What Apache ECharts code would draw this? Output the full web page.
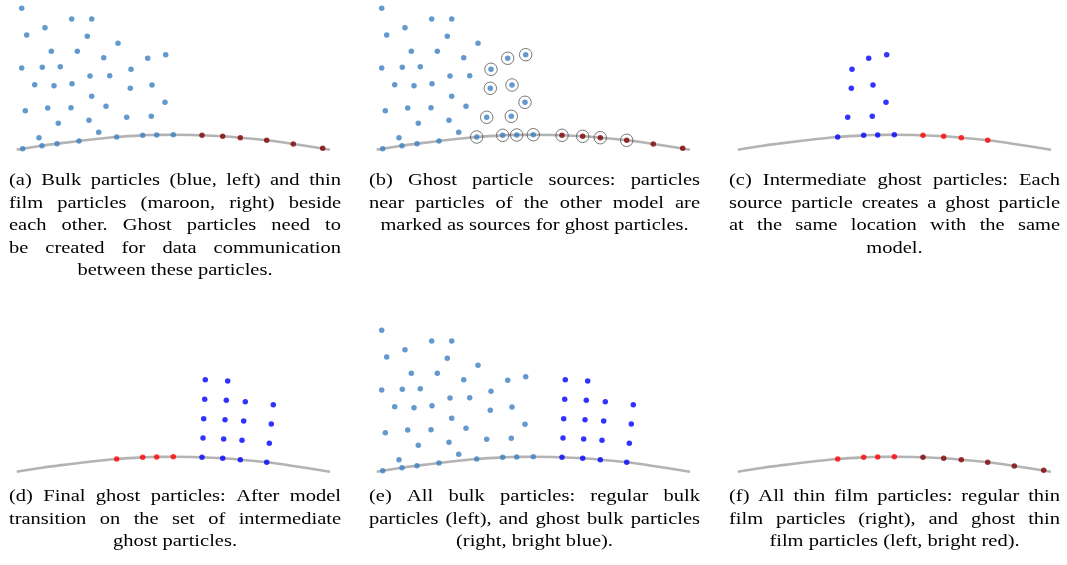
<!DOCTYPE html>
<html><head><meta charset="utf-8">
<script src="https://cdn.jsdelivr.net/npm/echarts@6/dist/echarts.min.js"></script>
<style>html,body{margin:0;padding:0;background:#fff}#c{width:1067px;height:565px}</style>
</head><body><div id="c"></div>
<script>
// Values, in panel-local units (x right, y down), per panel frame 340 x 160
const curvePts = [[16.7,149.7],[42,145.7],[57,143.7],[79,141],[116.7,137],[142.7,135.3],[156.7,135],[173.3,134.7],[202,135.3],[222.7,136.3],[240.3,137.7],[266.7,140.3],[293.3,144],[330,149.7]];
const bulkInterior = [[21.7,8.3],[71.7,19],[91.7,19],[45,27.7],[26.7,35],[87.3,36.3],[118,43.3],[51.3,51.3],[77.3,51.3],[103.7,57.7],[147.7,58.3],[165.7,54.7],[21.7,68],[42.3,67.3],[60.3,66.7],[131,69.3],[90,76],[109.7,75.7],[34.7,84.7],[54,85.7],[72,83.7],[130.3,88.3],[152,85],[91.7,96.3],[25.3,110.7],[47.7,108],[71,107.7],[106,106.3],[165,102.3],[58.3,123.3],[89,120.3],[126.7,117.3],[151.3,116.3],[98.7,132.3],[39,137.7]];
const bulkSurface = [[22.7,148.7],[42,145.7],[57,143.7],[79,141],[116.7,137],[142.7,135.3],[156.7,135],[173.3,134.7]];
const filmPts = [[202,135.3],[222.7,136.3],[240.3,137.7],[266.7,140.3],[293.3,144],[322.7,148.3]];
const bulkSources = [[147.7,58.3],[165.7,54.7],[131,69.3],[130.3,88.3],[152,85],[165,102.3],[126.7,117.3],[151.3,116.3],[116.7,137],[142.7,135.3],[156.7,135],[173.3,134.7]];
const filmSources = [[202,135.3],[222.7,136.3],[240.3,137.7],[266.7,140.3]];
const ghostFilm = [[116.7,137],[142.7,135.3],[156.7,135],[173.3,134.7]];
const ghostBulk = [[205.3,57.7],[204.7,77.3],[203.7,96.7],[203,116],[202,135.3],
  [227.7,59],[226.3,78.3],[225,97.7],[223.7,117],[222.7,136.3],
  [245.3,79.7],[243.7,99],[242,118.3],[240.3,137.7],
  [273.3,82.7],[271.3,102],[269.3,121.3],[266.7,140.3]];

const captionA = ["(a) Bulk particles (blue, left) and thin","film particles (maroon, right) beside","each other. Ghost particles need to","be created for data communication","between these particles."];
const captionB = ["(b) Ghost particle sources: particles","near particles of the other model are","marked as sources for ghost particles."];
const captionC = ["(c) Intermediate ghost particles: Each","source particle creates a ghost particle","at the same location with the same","model."];
const captionD = ["(d) Final ghost particles: After model","transition on the set of intermediate","ghost particles."];
const captionE = ["(e) All bulk particles: regular bulk","particles (left), and ghost bulk particles","(right, bright blue)."];
const captionF = ["(f) All thin film particles: regular thin","film particles (right), and ghost thin","film particles (left, bright red)."];

const C_BULK = '#3d80c3', C_FILM = '#7f0000', C_GB = '#0000ff', C_GF = '#ff0000', C_CURVE = '#b3b3b3';
const panels = [
  {left:0, top:0}, {left:360, top:0}, {left:721, top:0},
  {left:0, top:322}, {left:360, top:322}, {left:721, top:322}
];
const grid = panels.map(p => ({left:p.left, top:p.top, width:340, height:160}));
const xAxis = panels.map((p,i) => ({type:'value', gridIndex:i, min:0, max:340, show:false}));
const yAxis = panels.map((p,i) => ({type:'value', gridIndex:i, min:0, max:160, inverse:true, show:false}));

const series = [];
function curve(i){ series.push({type:'line', xAxisIndex:i, yAxisIndex:i, data:curvePts, smooth:0.4, symbol:'none', lineStyle:{color:C_CURVE, width:2.6}, silent:true, z:1}); }
function dots(i, data, color){ series.push({type:'scatter', xAxisIndex:i, yAxisIndex:i, data, symbolSize:5.5, itemStyle:{color}, silent:true, z:3}); }
function rings(i, data){ series.push({type:'scatter', xAxisIndex:i, yAxisIndex:i, data, symbolSize:12.5, itemStyle:{color:'rgba(0,0,0,0)', borderColor:'#444', borderWidth:0.9}, silent:true, z:2}); }
// (a)
curve(0); dots(0, bulkInterior, C_BULK); dots(0, bulkSurface, C_BULK); dots(0, filmPts, C_FILM);
// (b)
curve(1); rings(1, bulkSources.concat(filmSources)); dots(1, bulkInterior, C_BULK); dots(1, bulkSurface, C_BULK); dots(1, filmPts, C_FILM);
// (c)
curve(2); dots(2, bulkSources, C_GB); dots(2, filmSources, C_GF);
// (d)
curve(3); dots(3, ghostFilm, C_GF); dots(3, ghostBulk, C_GB);
// (e)
curve(4); dots(4, bulkInterior, C_BULK); dots(4, bulkSurface, C_BULK); dots(4, ghostBulk, C_GB);
// (f)
curve(5); dots(5, ghostFilm, C_GF); dots(5, filmPts, C_FILM);

// Captions: justified lines, last line centred
const FS = 16, SX = 1.28, FONT = FS + 'px "Liberation Serif", "Times New Roman", serif';
const ctx = document.createElement('canvas').getContext('2d');
ctx.font = FONT;
function w(t){ return ctx.measureText(t).width * SX; }
const graphics = [];
function caption(lines, x0, x1, y0, lh){
  lines.forEach((line, i) => {
    const y = y0 + i*lh;
    const last = i === lines.length - 1;
    const words = line.split(' ');
    if (last || words.length < 2) {
      graphics.push({type:'text', x:(x0+x1)/2, y, scaleX:SX, style:{text:line, font:FONT, fill:'#000', align:'center', verticalAlign:'middle'}, silent:true});
      return;
    }
    const widths = words.map(w);
    const total = widths.reduce((a,b)=>a+b,0);
    const gap = (x1 - x0 - total) / (words.length - 1);
    let x = x0;
    words.forEach((wd, k) => {
      graphics.push({type:'text', x, y, scaleX:SX, style:{text:wd, font:FONT, fill:'#000', align:'left', verticalAlign:'middle'}, silent:true});
      x += widths[k] + gap;
    });
  });
}
caption(captionA, 9, 341, 181, 22.5);
caption(captionB, 369, 700, 181, 22.5);
caption(captionC, 729, 1060, 181, 22.5);
caption(captionD, 9, 341, 497, 22.5);
caption(captionE, 369, 700, 497, 22.5);
caption(captionF, 729, 1060, 497, 22.5);

const chart = echarts.init(document.getElementById('c'), null, {renderer:'canvas'});
chart.setOption({animation:false, backgroundColor:'#fff', grid, xAxis, yAxis, series, graphic:graphics});
</script></body></html>
